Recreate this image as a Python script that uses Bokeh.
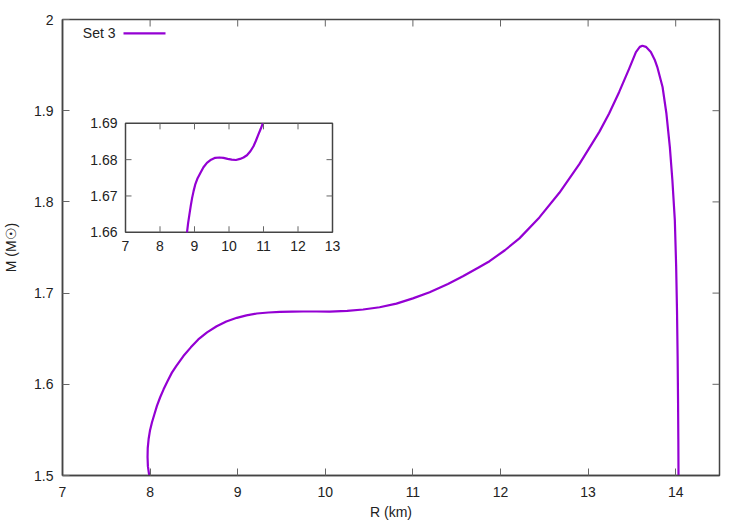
import math
from bokeh.plotting import figure
from bokeh.models import Range1d, FixedTicker
from bokeh.core.properties import value
from bokeh.embed import file_html
from bokeh.resources import INLINE

# ---------------- data ----------------
series_label = "Set 3"

radius_km = [7.99, 7.975, 7.971, 7.973, 7.983, 7.998, 8.021, 8.05, 8.078, 8.115,
             8.154, 8.20, 8.249, 8.30, 8.38, 8.465, 8.55, 8.65, 8.76, 8.87,
             8.99, 9.10, 9.218, 9.35, 9.483, 9.62, 9.748, 9.90, 10.05, 10.25,
             10.432, 10.62, 10.812, 11.0, 11.191, 11.4, 11.571, 11.75, 11.875, 12.05,
             12.216, 12.444, 12.672, 12.90, 13.128, 13.24, 13.355, 13.469, 13.546, 13.59,
             13.62, 13.66, 13.716, 13.76, 13.79, 13.85, 13.894, 13.933, 13.962, 13.99,
             14.005, 14.015, 14.022, 14.027, 14.03, 14.032]
mass_msun = [1.500, 1.510, 1.520, 1.530, 1.540, 1.549, 1.5581, 1.5675, 1.5763, 1.5858,
             1.5945, 1.6037, 1.6128, 1.6203, 1.6310, 1.6405, 1.6492, 1.6570, 1.6637, 1.6689,
             1.6729, 1.6756, 1.6776, 1.6787, 1.6794, 1.6797, 1.6798, 1.6798, 1.6797, 1.6806,
             1.6820, 1.6845, 1.6885, 1.6942, 1.7010, 1.7100, 1.7184, 1.7280, 1.7350, 1.7470,
             1.7600, 1.7830, 1.8100, 1.8415, 1.8768, 1.8970, 1.9206, 1.9461, 1.9643, 1.9700,
             1.9712, 1.9700, 1.9643, 1.9560, 1.9479, 1.9260, 1.8969, 1.8604, 1.8240, 1.7800,
             1.7300, 1.6800, 1.6300, 1.5800, 1.5400, 1.5000]

inset_radius_km = [8.783, 8.815, 8.85, 8.89, 8.93, 8.975, 9.02, 9.09, 9.17, 9.26,
                   9.36, 9.48, 9.60, 9.72, 9.84, 9.96, 10.08, 10.20, 10.32, 10.42,
                   10.52, 10.62, 10.71, 10.78, 10.85, 10.92, 10.98]
inset_mass_msun = [1.6600, 1.6625, 1.6647, 1.6672, 1.6694, 1.6714, 1.6731, 1.6749, 1.6763, 1.6779,
                   1.6791, 1.6800, 1.6805, 1.6806, 1.6805, 1.6802, 1.6800, 1.6799, 1.6802, 1.6806,
                   1.6812, 1.6823, 1.6837, 1.6852, 1.6869, 1.6885, 1.6900]

x_ticks = [7, 8, 9, 10, 11, 12, 13, 14]
x_tick_labels = ["7", "8", "9", "10", "11", "12", "13", "14"]
y_ticks = [1.5, 1.6, 1.7, 1.8, 1.9, 2.0]
y_tick_labels = ["1.5", "1.6", "1.7", "1.8", "1.9", "2"]

inset_x_ticks = [7, 8, 9, 10, 11, 12, 13]
inset_x_tick_labels = ["7", "8", "9", "10", "11", "12", "13"]
inset_y_ticks = [1.66, 1.67, 1.68, 1.69]
inset_y_tick_labels = ["1.66", "1.67", "1.68", "1.69"]

x_label = "R (km)"
y_label = "M (M\u2609)"

# ---------------- layout / style ----------------
FONT = "Liberation Sans"
FS = "14px"
TXT = "#222222"
AX = "#444444"
TICK = "#666666"
LINE_COLOR = "#9400D3"
LW = 2.2

W, H = 740, 522
BL, BR, BT, BB = 62, 21, 19, 45
FRAME_W, FRAME_H = W - BL - BR, H - BT - BB
# inset box in frame pixels (from the frame's top-left corner)
IN_L, IN_R, IN_T, IN_B = 63.0, 270.0, 104.3, 213.7
# legend placement in frame pixels
LEG_TEXT_X, LEG_Y = 53, 14
LEG_LINE_X0, LEG_LINE_X1 = 61, 103
TICK_LEN = 7
INSET_TICK_LEN = 6

main_x = (7, 14.5)
main_y = (1.5, 2.0)

# inset ranges spanning the whole frame so that the inset box lands at the given pixels
ix0, ix1 = inset_x_ticks[0], inset_x_ticks[-1]
iy0, iy1 = inset_y_ticks[0], inset_y_ticks[-1]
sx = (ix1 - ix0) / (IN_R - IN_L)
sy = (iy1 - iy0) / (IN_B - IN_T)
inset_xr = Range1d(ix0 - IN_L * sx, ix0 - IN_L * sx + FRAME_W * sx)
b_px = FRAME_H - IN_B
inset_yr = Range1d(iy0 - b_px * sy, iy0 - b_px * sy + FRAME_H * sy)

p = figure(width=W, height=H,
           x_range=Range1d(*main_x), y_range=Range1d(*main_y),
           output_backend="svg", toolbar_location=None,
           min_border_left=BL, min_border_right=BR, min_border_top=BT, min_border_bottom=BB,
           x_axis_label=x_label, y_axis_label=y_label)
p.extra_x_ranges = {"ix": inset_xr, "px": Range1d(0, FRAME_W)}
p.extra_y_ranges = {"iy": inset_yr, "py": Range1d(FRAME_H, 0)}
p.grid.visible = False
p.background_fill_color = "white"
p.border_fill_color = "white"
p.outline_line_color = AX
p.outline_line_width = 1.5


def style_axis(ax, ticks, labels):
    ax.ticker = FixedTicker(ticks=ticks)
    ax.major_label_overrides = {t: l for t, l in zip(ticks, labels)}
    ax.major_tick_in = TICK_LEN
    ax.major_tick_out = 0
    ax.minor_tick_line_color = None
    ax.major_tick_line_color = TICK
    ax.major_tick_line_width = 1
    ax.axis_line_color = AX
    ax.axis_line_width = 1.5
    ax.major_label_text_font = FONT
    ax.major_label_text_font_size = FS
    ax.major_label_text_color = TXT
    ax.axis_label_text_font = FONT
    ax.axis_label_text_font_size = FS
    ax.axis_label_text_font_style = "normal"
    ax.axis_label_text_color = TXT


style_axis(p.xaxis[0], x_ticks, x_tick_labels)
p.xaxis[0].major_label_standoff = 11
p.xaxis[0].axis_label_standoff = 4
style_axis(p.yaxis[0], y_ticks, y_tick_labels)
p.yaxis[0].major_label_standoff = 9
p.yaxis[0].axis_label_standoff = 12

# mirrored inward ticks on the top and right edges
p.ray(x=x_ticks, y=[main_y[1]] * len(x_ticks), length=TICK_LEN, length_units="screen",
      angle=-math.pi / 2, line_color=TICK, line_width=1)
p.ray(x=[main_x[1]] * len(y_ticks), y=y_ticks, length=TICK_LEN, length_units="screen",
      angle=math.pi, line_color=TICK, line_width=1)

# main curve
p.line(radius_km, mass_msun, line_color=LINE_COLOR, line_width=LW, line_join="round")

# ---------------- inset ----------------
IR = dict(x_range_name="ix", y_range_name="iy")
p.quad(left=[ix0], right=[ix1], bottom=[iy0], top=[iy1],
       fill_color="white", line_color=AX, line_width=1.5, **IR)
p.line(inset_radius_km, inset_mass_msun, line_color=LINE_COLOR, line_width=LW,
       line_join="round", **IR)

inner_x = inset_x_ticks[1:-1]
inner_y = inset_y_ticks[1:-1]
p.ray(x=inner_x, y=[iy0] * len(inner_x), length=INSET_TICK_LEN, length_units="screen",
      angle=math.pi / 2, line_color=TICK, line_width=1, **IR)
p.ray(x=inner_x, y=[iy1] * len(inner_x), length=INSET_TICK_LEN, length_units="screen",
      angle=-math.pi / 2, line_color=TICK, line_width=1, **IR)
p.ray(x=[ix0] * len(inner_y), y=inner_y, length=INSET_TICK_LEN, length_units="screen",
      angle=0, line_color=TICK, line_width=1, **IR)
p.ray(x=[ix1] * len(inner_y), y=inner_y, length=INSET_TICK_LEN, length_units="screen",
      angle=math.pi, line_color=TICK, line_width=1, **IR)

p.text(x=inset_x_ticks, y=[iy0] * len(inset_x_ticks), text=inset_x_tick_labels,
       x_offset=0, y_offset=9, text_align="center", text_baseline="top",
       text_font=value(FONT), text_font_size=value(FS), text_color=TXT, **IR)
p.text(x=[ix0] * len(inset_y_ticks), y=inset_y_ticks, text=inset_y_tick_labels,
       x_offset=-8, y_offset=0, text_align="right", text_baseline="middle",
       text_font=value(FONT), text_font_size=value(FS), text_color=TXT, **IR)

# ---------------- legend (gnuplot style: label then sample) ----------------
PR = dict(x_range_name="px", y_range_name="py")
p.text(x=[LEG_TEXT_X], y=[LEG_Y], text=[series_label], text_align="right",
       text_baseline="middle", text_font=value(FONT), text_font_size=value(FS),
       text_color=TXT, **PR)
p.line(x=[LEG_LINE_X0, LEG_LINE_X1], y=[LEG_Y, LEG_Y], line_color=LINE_COLOR,
       line_width=LW, **PR)

open("out.html", "w").write(file_html(p, INLINE))
